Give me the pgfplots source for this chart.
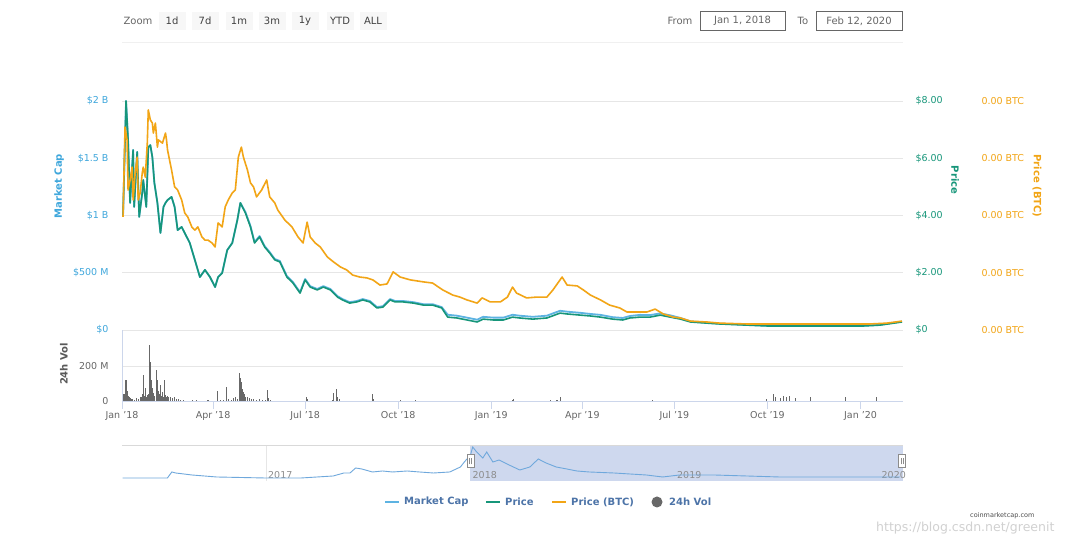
\documentclass[border=0pt]{standalone}
\usepackage{fontspec}
\setmainfont{DejaVu Sans}
\usepackage{pgfplots}
\pgfplotsset{compat=1.18}
\definecolor{mcap}{HTML}{5DB3E2}
\definecolor{mcaptxt}{HTML}{3FA7DC}
\definecolor{pgreen}{HTML}{17967A}
\definecolor{porange}{HTML}{F2A516}
\definecolor{gridc}{HTML}{E6E6E6}
\definecolor{axisc}{HTML}{CCD6EB}
\definecolor{txtgray}{HTML}{666666}
\definecolor{legtxt}{HTML}{4D74A8}
\definecolor{navfill}{HTML}{CED8EE}
\definecolor{navline}{HTML}{6FA8DC}
\definecolor{volc}{HTML}{686868}
\definecolor{btnbg}{HTML}{F7F7F7}
\newcommand{\tf}{\fontsize{9.5}{10}\selectfont}
\begin{document}
\begin{tikzpicture}[x=1pt,y=1pt]
\useasboundingbox (0,0) rectangle (1080,540);
\fill[white] (0,0) rectangle (1080,540);
% ---------- top controls ----------
\node[txtgray, font=\fontsize{10}{12}\selectfont] at (138,519) {Zoom};
\foreach \xx/\lab in {172/1d,205/7d,239/1m,272/3m,305/1y,340/YTD,373/ALL}{
  \node[fill=btnbg, minimum width=27, minimum height=18, inner sep=0, text=black!75, font=\fontsize{10}{12}\selectfont] at (\xx,519) {\lab};
}
\node[txtgray, font=\fontsize{10}{12}\selectfont] at (680,519) {From};
\node[draw=black!20, minimum width=85, minimum height=19, inner sep=0, txtgray, font=\fontsize{10}{12}\selectfont] at (742.5,519) {Jan 1, 2018};
\node[txtgray, font=\fontsize{10}{12}\selectfont] at (803,519) {To};
\node[draw=black!20, minimum width=86, minimum height=19, inner sep=0, txtgray, font=\fontsize{10}{12}\selectfont] at (859,519) {Feb 12, 2020};
\draw[black!6, line width=1] (122,497) -- (903,497);

% ---------- main axis: market cap ----------
\begin{axis}[at={(122pt,210pt)}, anchor=south west, scale only axis,
  width=781pt, height=229pt, xmin=0, xmax=772, ymin=0, ymax=2000,
  axis line style={draw=none}, xtick=\empty,
  ytick={0,500,1000,1500,2000},
  yticklabels={\$0,\$500 M,\$1 B,\$1.5 B,\$2 B},
  ymajorgrids, major grid style={gridc, line width=0.8pt},
  ytick style={draw=none},
  yticklabel style={mcaptxt, font=\tf, anchor=east, xshift=-10pt}]
\addplot[mcap, line width=1.8pt, line join=round] coordinates {
(1,988)(4,2000)(6,1660)(8,1110)(11,1572)(12,1075)(15,1555)(17,988)(20,1198)(21,1310)(24,1075)(26,1598)(28,1615)(30,1510)(32,1285)(35,1110)(38,848)(41,1075)(43,1110)(45,1135)(49,1162)(52,1075)(55,872)(59,900)(64,812)(67,760)(72,612)(77,462)(82,525)(87,462)(92,375)(95,462)(99,498)(104,698)(109,760)(114,960)(117,1110)
(122,1030)(127,908)(131,768)(136,820)(141,733)(146,680)(151,620)(156,603)(163,470)(169,418)(176,330)(181,445)(186,383)(193,358)(199,383)(206,358)(213,296)(218,270)(225,243)(232,253)(238,270)(245,253)(252,200)(258,208)(265,270)(270,253)(278,253)(288,243)(298,225)(307,225)(316,200)
(322,133)(331,125)(341,108)(351,90)(357,115)(367,108)(377,108)(386,133)(393,125)(406,115)(420,125)(433,168)(440,160)(453,150)(463,140)(473,132)(485,112)(495,105)(502,122)(512,132)(522,130)(532,145)(542,128)(552,105)(562,75)(578,63)(591,55)(618,45)(638,38)(667,38)(700,38)(733,38)(749,45)(771,74)};
\end{axis}

% ---------- price axis ----------
\begin{axis}[at={(122pt,210pt)}, anchor=south west, scale only axis,
  width=781pt, height=229pt, xmin=0, xmax=772, ymin=0, ymax=8,
  axis y line*=right, axis x line=none, axis line style={draw=none},
  ytick={0,2,4,6,8},
  yticklabels={\$0,\$2.00,\$4.00,\$6.00,\$8.00},
  ytick style={draw=none},
  yticklabel style={pgreen, font=\tf, anchor=west, xshift=9pt}]
\addplot[pgreen, line width=1.6pt, line join=round] coordinates {
(1,3.95)(4,8.0)(6,6.64)(8,4.44)(11,6.29)(12,4.30)(15,6.22)(17,3.95)(20,4.79)(21,5.24)(24,4.30)(26,6.39)(28,6.46)(30,6.04)(32,5.14)(35,4.44)(38,3.39)(41,4.30)(43,4.44)(45,4.54)(49,4.65)(52,4.30)(55,3.49)(59,3.60)(64,3.25)(67,3.04)(72,2.45)(77,1.85)(82,2.10)(87,1.85)(92,1.50)(95,1.85)(99,1.99)(104,2.79)(109,3.04)(114,3.84)(117,4.44)
(122,4.09)(127,3.60)(131,3.04)(136,3.25)(141,2.90)(146,2.69)(151,2.45)(156,2.38)(163,1.85)(169,1.64)(176,1.29)(181,1.75)(186,1.50)(193,1.40)(199,1.50)(206,1.40)(213,1.15)(218,1.05)(225,0.94)(232,0.98)(238,1.05)(245,0.98)(252,0.77)(258,0.80)(265,1.05)(270,0.98)(278,0.98)(288,0.94)(298,0.87)(307,0.87)(316,0.77)
(322,0.45)(331,0.42)(341,0.35)(351,0.28)(357,0.38)(367,0.35)(377,0.35)(386,0.45)(393,0.42)(406,0.38)(420,0.42)(433,0.59)(440,0.56)(453,0.52)(463,0.49)(473,0.45)(485,0.38)(495,0.35)(502,0.42)(512,0.45)(522,0.45)(532,0.52)(542,0.45)(552,0.38)(562,0.28)(578,0.24)(591,0.21)(618,0.17)(638,0.14)(667,0.14)(700,0.14)(733,0.14)(749,0.17)(771,0.28)};
\end{axis}

% ---------- price (BTC) axis ----------
\begin{axis}[at={(122pt,210pt)}, anchor=south west, scale only axis,
  width=781pt, height=229pt, xmin=0, xmax=772, ymin=0, ymax=8,
  axis y line*=right, axis x line=none, axis line style={draw=none},
  ytick={0,2,4,6,8},
  yticklabels={0.00 BTC,0.00 BTC,0.00 BTC,0.00 BTC,0.00 BTC},
  ytick style={draw=none},
  yticklabel style={porange, font=\tf, anchor=west, xshift=75pt}]
\addplot[porange, line width=1.6pt, line join=round] coordinates {
(1,3.95)(3,7.09)(5,6.64)(6,4.89)(8,5.24)(10,5.69)(11,4.54)(13,5.48)(15,6.04)(16,4.54)(18,4.79)(20,5.48)(21,5.69)(23,5.34)(25,6.53)(26,7.69)(28,7.34)(30,7.23)(31,6.88)(33,7.23)(35,6.39)(36,6.64)(40,6.53)(43,6.88)(44,6.64)(45,6.29)(49,5.59)(52,5.00)(55,4.89)(59,4.54)(62,4.09)(65,3.95)(69,3.60)(72,3.49)(75,3.60)(79,3.25)(82,3.14)(85,3.14)(89,3.04)(92,2.90)(95,3.74)(99,3.60)(102,4.30)(105,4.54)(109,4.79)(112,4.89)(115,6.04)(118,6.39)(120,6.04)(124,5.59)(127,5.14)(130,5.00)(133,4.65)(138,4.89)(143,5.24)(146,4.65)(151,4.44)(154,4.19)(161,3.84)(168,3.60)(174,3.25)(179,3.04)(183,3.77)(186,3.25)(191,3.04)(196,2.90)(203,2.55)(209,2.38)(216,2.20)(222,2.10)(228,1.92)(235,1.85)(242,1.82)(248,1.75)(255,1.57)(262,1.61)(268,2.03)(275,1.85)(285,1.75)(298,1.68)(307,1.64)(317,1.40)(327,1.22)(334,1.15)(341,1.05)(351,0.94)(356,1.12)(364,0.98)(374,0.98)(381,1.15)(386,1.50)(390,1.29)(400,1.12)(410,1.15)(420,1.15)(426,1.40)(435,1.85)(440,1.57)(450,1.54)(456,1.40)(463,1.22)(473,1.05)(482,0.87)(492,0.77)(499,0.63)(509,0.63)(519,0.63)(527,0.73)(535,0.56)(545,0.45)(552,0.42)(562,0.31)(578,0.28)(591,0.24)(618,0.21)(650,0.21)(683,0.21)(717,0.21)(739,0.21)(756,0.24)(771,0.31)};
\end{axis}

% ---------- volume axis ----------
\begin{axis}[at={(122pt,139pt)}, anchor=south west, scale only axis,
  width=781pt, height=71pt, xmin=0, xmax=772, ymin=0, ymax=406,
  axis x line*=bottom, axis y line*=left,
  axis line style={axisc, line width=0.8pt, -},
  ytick={0,200}, yticklabels={0,200 M},
  ymajorgrids, major grid style={gridc, line width=0.8pt},
  ytick style={draw=none},
  yticklabel style={txtgray, font=\tf, anchor=east, xshift=-2pt},
  xtick={0,90,181,273,365,455,546,638,730},
  xticklabels={Jan '18,Apr '18,Jul '18,Oct '18,Jan '19,Apr '19,Jul '19,Oct '19,Jan '20},
  xtick style={axisc, line width=0.8pt}, tick align=outside, major tick length=8pt,
  xticklabel style={txtgray, font=\tf, yshift=1pt}]
\addplot[ycomb, volc, line width=1.1pt] coordinates {
(2,40)(4,120)(5,60)(6,30)(7,20)(8,15)(9,10)(10,12)(12,8)(14,15)(16,10)(18,25)(19,20)(20,40)(21,150)(22,30)(23,75)(24,20)(25,35)(26,40)(27,320)(28,223)(29,120)(30,75)(31,45)(32,30)(34,177)(35,120)(36,60)(37,40)(38,91)(39,30)(40,51)(41,20)(42,120)(43,35)(44,25)(45,30)(46,23)(48,20)(50,15)(52,22)(54,12)(56,10)(58,8)(61,5)(70,4)(74,8)(85,3)
(94,57)(97,8)(100,5)(103,80)(105,10)(108,6)(110,15)(112,20)(114,12)(116,160)(117,130)(118,108)(119,70)(120,51)(121,40)(122,25)(124,20)(126,15)(128,12)(130,10)(133,8)(136,10)(139,8)(142,6)(144,63)(145,15)(147,8)
(182,23)(183,10)(208,8)(209,45)(212,68)(213,20)(215,10)(248,40)(249,10)(275,5)(290,4)(386,8)(387,12)(424,6)(430,5)(433,20)(524,3)(637,10)(644,40)(646,20)(651,18)(654,30)(657,22)(660,28)(666,15)(681,25)(715,25)(746,20)};
\end{axis}

% ---------- navigator (x in days from 1 Jan 2018) ----------
\begin{axis}[at={(122pt,59pt)}, anchor=south west, scale only axis,
  width=781pt, height=36pt, xmin=-622, xmax=772, ymin=-125, ymax=2125,
  axis line style={draw=none}, ytick=\empty,
  xtick={-365,0,365,730}, xticklabels={}, xtick style={draw=none},
  xmajorgrids, major grid style={gridc, line width=0.8pt}, clip=false]
\fill[navfill] (axis cs:0,-125) rectangle (axis cs:772,2125);
\draw[black!15, line width=0.8pt] (axis cs:-622,2125) -- (axis cs:772,2125);
\node[anchor=south west, text=black!45, font=\tf, inner sep=0, xshift=2pt, yshift=2pt] at (axis cs:-365,-125) {2017};
\node[anchor=south west, text=black!45, font=\tf, inner sep=0, xshift=2pt, yshift=2pt] at (axis cs:0,-125) {2018};
\node[anchor=south west, text=black!45, font=\tf, inner sep=0, xshift=2pt, yshift=2pt] at (axis cs:365,-125) {2019};
\node[anchor=south west, text=black!45, font=\tf, inner sep=0, xshift=2pt, yshift=2pt] at (axis cs:730,-125) {2020};
\addplot[navline, line width=0.9pt] coordinates {
(-621,62)(-541,62)(-533,438)(-526,375)(-497,250)(-453,125)(-365,62)(-303,62)(-245,188)(-226,375)(-215,375)(-205,688)(-194,625)(-175,438)(-157,500)(-139,438)(-113,500)(-91,438)(-66,375)(-37,438)(-18,750)(-11,1062)(0,1500)(4,2000)(11,1688)(22,1312)(29,1688)(40,1062)(51,1188)(69,875)(88,562)(106,750)(121,1250)(135,1000)(153,750)(172,625)(190,500)(212,438)(256,375)(285,312)(314,250)(343,125)(373,250)(435,250)(493,188)(552,125)(610,125)(730,125)(767,125)};
\draw[black!45, fill=white, line width=0.7pt] ([xshift=-3.5pt]axis cs:0,700) rectangle ([xshift=3.5pt]axis cs:0,1550);
\draw[black!45, line width=0.6pt] ([xshift=-1pt]axis cs:0,920) -- ([xshift=-1pt]axis cs:0,1330);
\draw[black!45, line width=0.6pt] ([xshift=1pt]axis cs:0,920) -- ([xshift=1pt]axis cs:0,1330);
\draw[black!45, fill=white, line width=0.7pt] ([xshift=-3.5pt]axis cs:770,700) rectangle ([xshift=3.5pt]axis cs:770,1550);
\draw[black!45, line width=0.6pt] ([xshift=-1pt]axis cs:770,920) -- ([xshift=-1pt]axis cs:770,1330);
\draw[black!45, line width=0.6pt] ([xshift=1pt]axis cs:770,920) -- ([xshift=1pt]axis cs:770,1330);
\end{axis}

% ---------- axis titles ----------
\node[rotate=90, mcaptxt, font=\bfseries\fontsize{10}{12}\selectfont] at (59,354) {Market Cap};
\node[rotate=-90, pgreen, font=\bfseries\fontsize{10}{12}\selectfont] at (955,360) {Price};
\node[rotate=-90, porange, font=\bfseries\fontsize{10}{12}\selectfont] at (1037,354) {Price (BTC)};
\node[rotate=90, black!65, font=\bfseries\fontsize{10}{12}\selectfont] at (64,176) {24h Vol};

% ---------- legend ----------
\draw[mcap, line width=2pt] (385,38) -- (399,38);
\node[anchor=west, legtxt, inner sep=0, font=\bfseries\fontsize{10}{12}\selectfont] at (404,38) {Market Cap};
\draw[pgreen, line width=2pt] (486,38) -- (500,38);
\node[anchor=west, legtxt, inner sep=0, font=\bfseries\fontsize{10}{12}\selectfont] at (505,38) {Price};
\draw[porange, line width=2pt] (552,38) -- (566,38);
\node[anchor=west, legtxt, inner sep=0, font=\bfseries\fontsize{10}{12}\selectfont] at (571,38) {Price (BTC)};
\fill[volc] (657,38) circle (5.5);
\node[anchor=west, legtxt, inner sep=0, font=\bfseries\fontsize{10}{12}\selectfont] at (669,38) {24h Vol};

% ---------- credits / watermark ----------
\node[anchor=west, black!18, inner sep=0, font=\fontsize{12.5}{13}\selectfont] at (876,12) {https://blog.csdn.net/greenit};
\node[anchor=west, black!70, inner sep=0, font=\fontsize{6.5}{7}\selectfont] at (970,24) {coinmarketcap.com};
\end{tikzpicture}
\end{document}
